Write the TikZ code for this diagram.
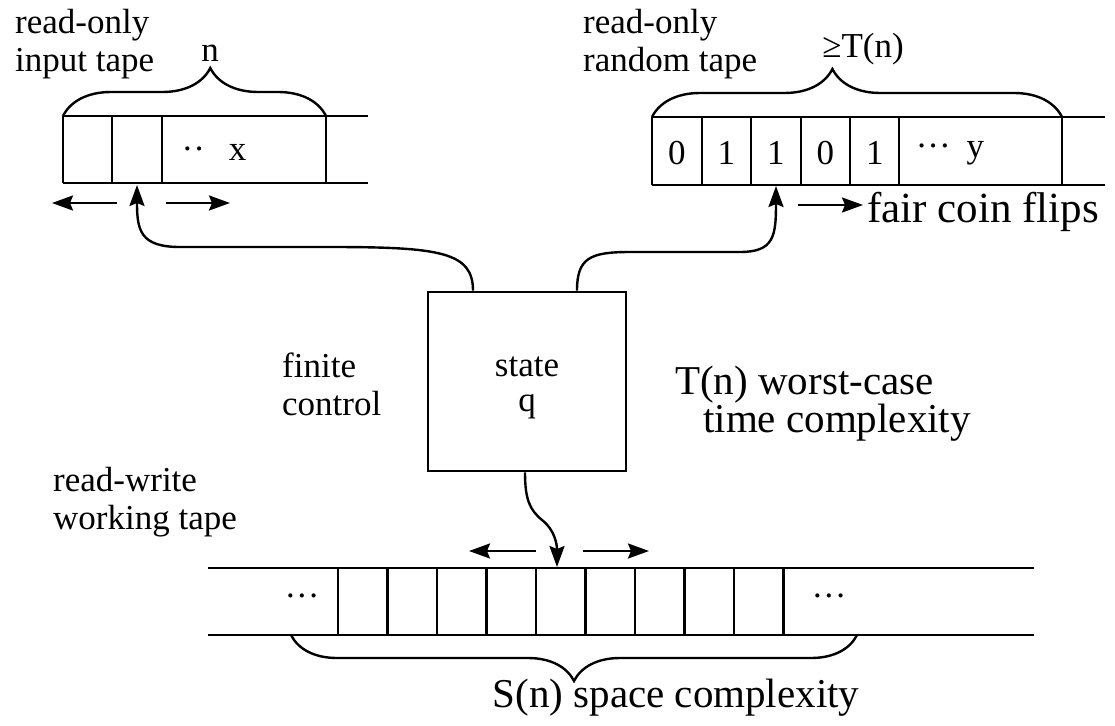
\documentclass[tikz,border=0pt]{standalone}
\usepackage{fontspec}
\setmainfont{Liberation Serif}
\usepackage{tikz}
\tikzset{
    tapeline/.style={line width=2.6pt},
    ctrlbox/.style={draw, rectangle, line width=2.6pt, minimum width=198pt, minimum height=179pt, align=center, inner sep=0pt},
    headarrow/.style={-{Stealth[length=21pt,width=15pt,inset=3pt]}, line width=2.4pt},
    movearrow/.style={-{Stealth[length=21pt,width=15pt,inset=3pt]}, line width=2.4pt},
    tapetext/.style={align=left, inner sep=0pt, anchor=north west},
    symb/.style={inner sep=0pt},
    bigtext/.style={font=\fontsize{41pt}{36pt}\selectfont},
    tapebrace/.style={decorate, line width=2.4pt} }
\usetikzlibrary{arrows.meta, decorations.pathreplacing}

\begin{document}
\begin{tikzpicture}[x=1pt, y=-1pt, font=\fontsize{35pt}{38pt}\selectfont]
			\useasboundingbox (0,0) rectangle (1115,725);
			% ---- input tape
			\draw[tapeline] (63,116) -- (368,116) (63,183) -- (368,183);
			\foreach \x in {63,112,162,326}
				\draw[tapeline] (\x,116) -- (\x,183);
			\node[symb] (inx) at (214,152) {··\hspace{24pt}x};
			\draw[tapebrace, decoration={brace, amplitude=48pt, aspect=0.56}] (63,116) -- (326,116);
			\node[symb, anchor=base] (n) at (210,61) {n};
			\node[tapetext] (inlabel) at (15,9) {read-only\\input tape};
			\coordinate (inhead) at (137,185);
			\draw[movearrow] (117,203) -- (52,203);
			\draw[movearrow] (166,203) -- (230,203);
			% ---- random tape
			\draw[tapeline] (652,117) -- (1105,117) (652,185) -- (1105,185);
			\foreach \x in {652,702,751,801,850,899,1062}
				\draw[tapeline] (\x,117) -- (\x,185);
			\foreach \d [count=\i] in {0,1,1,0,1}
				\node[symb] (bit\i) at ({652+49.5*(\i-0.5)},153) {\d};
			\node[symb] (rndy) at (950,153) {···\hspace{16pt}y};
			\draw[tapebrace, decoration={brace, amplitude=48pt, aspect=0.44}] (652,117) -- (1062,117);
			\node[symb, anchor=base] (tn) at (863,58) {≥T(n)};
			\node[tapetext] (rndlabel) at (583,9) {read-only\\random tape};
			\node[symb, font=\fontsize{43pt}{40pt}\selectfont, anchor=base west] (coin) at (867,222) {fair coin flips};
			\coordinate (rndhead) at (776,186);
			\draw[movearrow] (798,205) -- (863,205);
			% ---- finite control
			\node[ctrlbox] (ctrl) at (527,381.5) {\rule{0pt}{32pt}state\\[-3pt]q};
			\node[tapetext] (finite) at (282,353) {finite\\control};
			\node[tapetext, bigtext] (time) at (675,366) {T(n) worst-case\\\hspace*{28pt}time complexity};
			\draw[headarrow] ([xshift=-54pt]ctrl.north) .. controls (473,252) and (440,247) .. (330,247)
				-- (180,247) .. controls (140,247) and (137,230) .. (inhead);
			\draw[headarrow] ([xshift=50pt]ctrl.north) .. controls (577,258) and (590,252) .. (630,252)
				-- (740,252) .. controls (774,252) and (776,236) .. (rndhead);
			% ---- working tape
			\draw[tapeline] (208,568) -- (1034,568) (208,635) -- (1034,635);
			\foreach \k in {0,...,9}
				\draw[tapeline] ({338+49.5*\k},568) -- ({338+49.5*\k},635);
			\node[symb] (wdots1) at (302,601) {···};
			\node[symb] (wdots2) at (829,601) {···};
			\node[tapetext] (wklabel) at (53,467) {read-write\\working tape};
			\coordinate (wkhead) at (557,567);
			\draw[headarrow] ([xshift=-2pt]ctrl.south) .. controls (525,500) and (530,510) .. (542,520)
				.. controls (555,530) and (557,545) .. (wkhead);
			\draw[movearrow] (536,551) -- (469,551);
			\draw[movearrow] (583,551) -- (649,551);
			\draw[tapebrace, decoration={brace, amplitude=46pt, aspect=0.5}] (857,635) -- (291,635);
			\node[symb, bigtext, anchor=base] (space) at (676,707) {S(n) space complexity};
		\end{tikzpicture}
\end{document}
